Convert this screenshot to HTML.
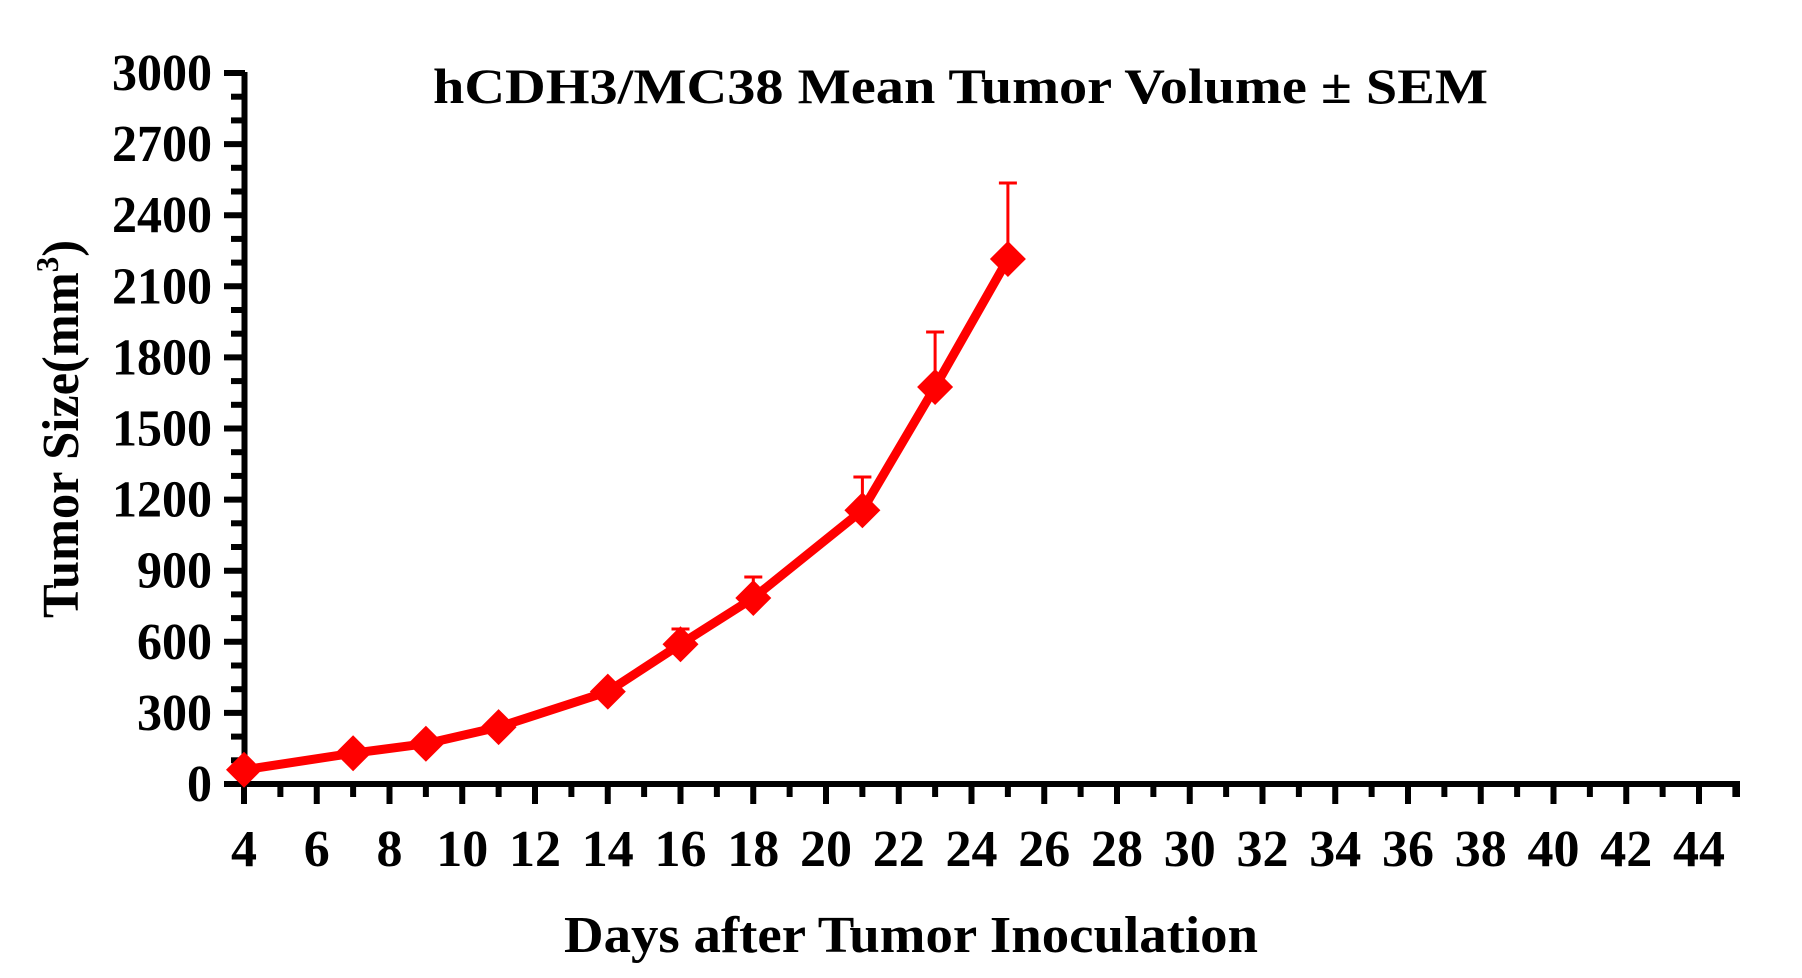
<!DOCTYPE html>
<html><head><meta charset="utf-8"><style>html,body{margin:0;padding:0;background:#fff}svg{display:block}text{font-family:"Liberation Serif","Times New Roman",Times,serif;font-weight:bold;fill:#000}</style></head>
<body>
<svg width="1802" height="978" viewBox="0 0 1802 978" xmlns="http://www.w3.org/2000/svg" font-family="Liberation Serif, Times New Roman, serif">
<text x="433" y="103" font-size="50" textLength="1055" lengthAdjust="spacingAndGlyphs">hCDH3/MC38 Mean Tumor Volume ± SEM</text>
<text transform="translate(78,618) rotate(-90)" font-size="52" textLength="378" lengthAdjust="spacingAndGlyphs">Tumor Size(mm<tspan font-size="32" dy="-20">3</tspan><tspan dy="20">)</tspan></text>
<text x="911" y="952" font-size="52" text-anchor="middle" textLength="694" lengthAdjust="spacingAndGlyphs">Days after Tumor Inoculation</text>
<g stroke="#000" fill="none">
<line x1="244.5" y1="72" x2="244.5" y2="787" stroke-width="6"/>
<line x1="241.5" y1="784" x2="1737" y2="784" stroke-width="6"/>
<line x1="1737" y1="781" x2="1737" y2="797" stroke-width="6"/>
</g>
<g id="yt" stroke="#000" stroke-width="6"></g>
<g id="xt" stroke="#000" stroke-width="6"></g>
<g id="yl" font-size="52" text-anchor="end"></g>
<g id="xl" font-size="52" text-anchor="middle"></g>
<g stroke="#f00" stroke-width="3" fill="none">
<path d="M680.5 644V629M671.5 629h18M753.3 598V577M744.3 577h18M862.4 510V477M853.4 477h18M935.1 387V332M926.1 332h18M1007.9 259V183M998.9 183h18"/>
</g>
<polyline fill="none" stroke="#f00" stroke-width="9" stroke-linejoin="round" points="244,769.8 353.1,753.2 425.9,743.7 498.6,727.1 607.8,691.6 680.5,644.2 753.3,598 862.4,510.3 935.1,387 1007.9,259"/>
<g id="mk" fill="#f00"></g>
<script>
var ns="http://www.w3.org/2000/svg";
function el(p,t,a,txt){var e=document.createElementNS(ns,t);for(var k in a)e.setAttribute(k,a[k]);if(txt!=null)e.textContent=txt;document.getElementById(p).appendChild(e);}
for(var v=0;v<=3000;v+=100){var y=784-v*0.237;var maj=v%300==0;el("yt","line",{x1:maj?224:231,y1:y,x2:245,y2:y});if(maj){var s=String(v);el("yl","text",{x:212,y:y+17,textLength:s.length*25,lengthAdjust:"spacingAndGlyphs"},s);}}
for(var d=4;d<=45;d++){var x=244+(d-4)*36.375;var maj=d%2==0;el("xt","line",{x1:x,y1:784,x2:x,y2:maj?804:797});if(maj){var s=String(d);el("xl","text",{x:x,y:866,textLength:s.length*26,lengthAdjust:"spacingAndGlyphs"},s);}}
var pts=[[244,769.8],[353.1,753.2],[425.9,743.7],[498.6,727.1],[607.8,691.6],[680.5,644.2],[753.3,598],[862.4,510.3],[935.1,387],[1007.9,259]];
pts.forEach(function(p){el("mk","polygon",{points:(p[0])+","+(p[1]-18)+" "+(p[0]+18)+","+p[1]+" "+p[0]+","+(p[1]+18)+" "+(p[0]-18)+","+p[1]});});
</script>
</svg>
</body></html>
